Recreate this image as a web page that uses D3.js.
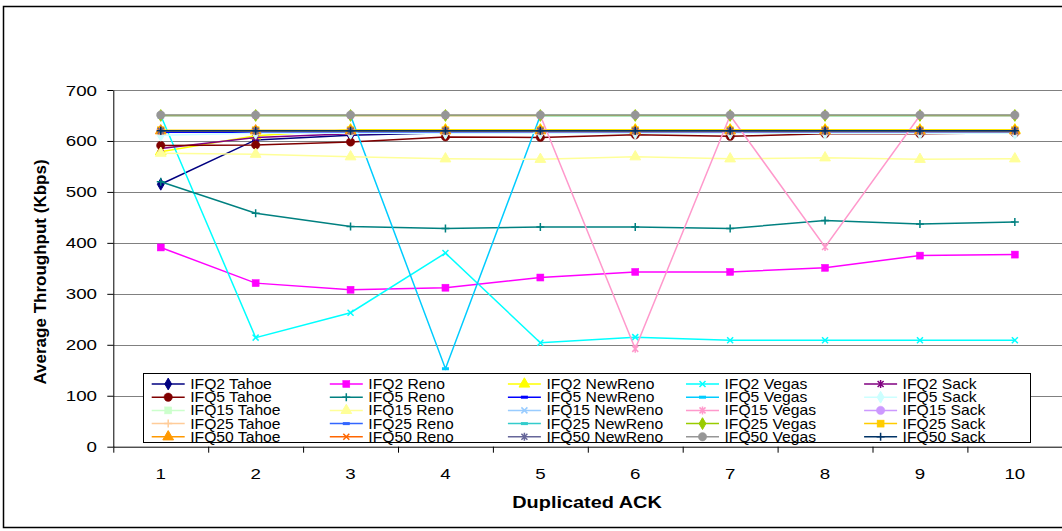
<!DOCTYPE html>
<html>
<head>
<meta charset="utf-8">
<script src="https://cdn.jsdelivr.net/npm/d3@7/dist/d3.min.js"></script>
<style>
body { margin: 0; background: #fff; }
text { font-family: Arial, "Liberation Sans", sans-serif; fill: #000; }
</style>
</head>
<body>
<div id="chart"></div>
<script>
// categories on the x axis (duplicated ACK threshold)
var categories = [1, 2, 3, 4, 5, 6, 7, 8, 9, 10];
var yTicks = [0, 100, 200, 300, 400, 500, 600, 700];

// throughput values (Kbps)
var ifq2Tahoe    = [515, 602, 611, 616, 618, 618, 618, 618, 618, 618];
var ifq2Reno     = [391, 321, 308, 312, 332, 343, 343, 351, 375, 377];
var ifq2NewReno  = [579, 610, 622, 622, 622, 622, 622, 622, 622, 622];
var ifq2Vegas    = [650, 214, 263, 380, 204, 215, 209, 209, 209, 209];
var ifq2Sack     = [585, 607, 614, 616, 617, 617, 617, 617, 617, 617];
var ifq5Tahoe    = [591, 592, 598, 608, 607, 612, 609, 614, 614, 616];
var ifq5Reno     = [520, 458, 432, 428, 431, 431, 428, 444, 437, 441];
var ifq5NewReno  = [617, 617, 617, 617, 618, 618, 618, 618, 618, 618];
var ifq5Vegas    = [650, 650, 650, 153, 650, 650, 650, 650, 650, 650];
var ifq5Sack     = [611, 615, 615, 615, 615, 615, 615, 615, 615, 615];
var ifq15Tahoe   = [620, 620, 620, 620, 620, 620, 620, 620, 620, 620];
var ifq15Reno    = [576, 574, 569, 565, 564, 569, 565, 567, 564, 565];
var ifq15NewReno = [619, 619, 619, 619, 619, 619, 619, 619, 619, 619];
var ifq15Vegas   = [650, 650, 650, 650, 650, 192, 650, 392, 650, 650];
var ifq15Sack    = [620, 620, 620, 620, 620, 620, 620, 620, 620, 620];
var ifq25Tahoe   = [620, 620, 620, 620, 620, 620, 620, 620, 620, 620];
var ifq25Reno    = [619, 619, 619, 619, 619, 619, 619, 619, 619, 619];
var ifq25NewReno = [620, 620, 620, 620, 620, 620, 620, 620, 620, 620];
var ifq25Vegas   = [650, 650, 650, 650, 650, 650, 650, 650, 650, 650];
var ifq25Sack    = [621, 621, 621, 621, 621, 621, 621, 621, 621, 621];
var ifq50Tahoe   = [620, 620, 620, 620, 620, 620, 620, 620, 620, 620];
var ifq50Reno    = [620, 620, 620, 620, 620, 620, 620, 620, 620, 620];
var ifq50NewReno = [620, 620, 620, 620, 620, 620, 620, 620, 620, 620];
var ifq50Vegas   = [651, 651, 651, 651, 651, 651, 651, 651, 651, 651];
var ifq50Sack    = [620, 620, 620, 620, 620, 620, 620, 620, 620, 620];

var seriesNames = [
    "IFQ2 Tahoe", "IFQ2 Reno", "IFQ2 NewReno", "IFQ2 Vegas", "IFQ2 Sack",
    "IFQ5 Tahoe", "IFQ5 Reno", "IFQ5 NewReno", "IFQ5 Vegas", "IFQ5 Sack",
    "IFQ15 Tahoe", "IFQ15 Reno", "IFQ15 NewReno", "IFQ15 Vegas", "IFQ15 Sack",
    "IFQ25 Tahoe", "IFQ25 Reno", "IFQ25 NewReno", "IFQ25 Vegas", "IFQ25 Sack",
    "IFQ50 Tahoe", "IFQ50 Reno", "IFQ50 NewReno", "IFQ50 Vegas", "IFQ50 Sack"
];
var seriesValues = [
    ifq2Tahoe, ifq2Reno, ifq2NewReno, ifq2Vegas, ifq2Sack,
    ifq5Tahoe, ifq5Reno, ifq5NewReno, ifq5Vegas, ifq5Sack,
    ifq15Tahoe, ifq15Reno, ifq15NewReno, ifq15Vegas, ifq15Sack,
    ifq25Tahoe, ifq25Reno, ifq25NewReno, ifq25Vegas, ifq25Sack,
    ifq50Tahoe, ifq50Reno, ifq50NewReno, ifq50Vegas, ifq50Sack
];

// excel style colours and markers, same order as the names
var colors = [
    "#000080", "#ff00ff", "#ffff00", "#00ffff", "#800080",
    "#800000", "#008080", "#0000ff", "#00ccff", "#ccffff",
    "#ccffcc", "#ffff99", "#99ccff", "#ff99cc", "#cc99ff",
    "#ffcc99", "#3366ff", "#33cccc", "#99cc00", "#ffcc00",
    "#ff9900", "#ff6600", "#666699", "#969696", "#003366"
];
var markers = [
    "diamond", "square", "triangle", "x", "star",
    "circle", "plus", "dash", "dash", "diamond",
    "square", "triangle", "x", "star", "circle",
    "plus", "dash", "dash", "diamond", "square",
    "triangle", "x", "star", "circle", "plus"
];

var width = 1062, height = 531;
var svg = d3.select("#chart").append("svg")
    .attr("width", width)
    .attr("height", height);

svg.append("rect")
    .attr("width", width).attr("height", height)
    .attr("fill", "#fff");

// outer chart border
svg.append("rect")
    .attr("x", 3.5).attr("y", 6.5)
    .attr("width", 1080).attr("height", 521)
    .attr("fill", "none")
    .attr("stroke", "#000")
    .attr("stroke-width", 1.5);

var xScale = d3.scaleLinear().domain([0.5, 10.5]).range([113.3, 1062.3]);
var yScale = d3.scaleLinear().domain([0, 700]).range([446.7, 90]);

// grid lines
svg.append("g").attr("class", "grid")
    .selectAll("line")
    .data(yTicks.filter(function(d) { return d > 0; }))
    .join("line")
    .attr("x1", xScale.range()[0])
    .attr("x2", xScale.range()[1])
    .attr("y1", function(d) { return Math.round(yScale(d)) + 0.5; })
    .attr("y2", function(d) { return Math.round(yScale(d)) + 0.5; })
    .attr("stroke", "#808080")
    .attr("stroke-width", 1);

// y axis
var yAxis = svg.append("g")
    .attr("class", "y axis")
    .attr("transform", "translate(113.3,0)")
    .call(d3.axisLeft(yScale).tickValues(yTicks).tickSize(6).tickSizeOuter(0).tickFormat(""));
yAxis.selectAll("path,line").attr("stroke", "#000");

yTicks.forEach(function(t) {
    svg.append("text")
        .attr("text-anchor", "end")
        .attr("font-size", 15)
        .attr("transform", "translate(97," + (yScale(t) + 5.5) + ") scale(1.25,1)")
        .text(t);
});

// x axis, ticks sit between categories
var xAxis = svg.append("g")
    .attr("class", "x axis")
    .attr("transform", "translate(0,446.7)")
    .call(d3.axisBottom(xScale).tickValues(d3.range(0.5, 11, 1)).tickSize(6).tickSizeOuter(0).tickFormat(""));
xAxis.selectAll("path,line").attr("stroke", "#000");

categories.forEach(function(c) {
    svg.append("text")
        .attr("text-anchor", "middle")
        .attr("font-size", 15)
        .attr("transform", "translate(" + xScale(c) + ",479) scale(1.25,1)")
        .text(c);
});

// axis titles
svg.append("text")
    .attr("text-anchor", "middle")
    .attr("font-size", 17)
    .attr("font-weight", "bold")
    .attr("transform", "translate(587,508) scale(1.17,1)")
    .text("Duplicated ACK");

svg.append("text")
    .attr("text-anchor", "middle")
    .attr("font-size", 17)
    .attr("font-weight", "bold")
    .attr("transform", "translate(46,272) rotate(-90)")
    .text("Average Throughput (Kbps)");

// marker drawing
function drawMarker(g, type, color) {
    if (type === "diamond") {
        g.append("path").attr("d", d3.symbol().type(d3.symbolDiamond).size(40)())
            .attr("fill", color).attr("stroke", color);
    } else if (type === "square") {
        g.append("rect").attr("x", -3.5).attr("y", -3.5).attr("width", 7).attr("height", 7)
            .attr("fill", color).attr("stroke", color).attr("stroke-width", 0.5);
    } else if (type === "triangle") {
        g.append("path").attr("d", d3.symbol().type(d3.symbolTriangle).size(50)())
            .attr("fill", color).attr("stroke", color);
    } else if (type === "circle") {
        g.append("circle").attr("r", 4.2)
            .attr("fill", color).attr("stroke", color).attr("stroke-width", 0.5);
    } else if (type === "dash") {
        g.append("rect").attr("x", -3.5).attr("y", -1.5).attr("width", 7).attr("height", 3)
            .attr("fill", color);
    } else if (type === "x") {
        g.append("path").attr("d", "M-3,-3L3,3M-3,3L3,-3")
            .attr("fill", "none").attr("stroke", color).attr("stroke-width", 1.5);
    } else if (type === "star") {
        g.append("path").attr("d", "M-3,-3L3,3M-3,3L3,-3M0,-4L0,4")
            .attr("fill", "none").attr("stroke", color).attr("stroke-width", 1.5);
    } else if (type === "plus") {
        g.append("path").attr("d", "M-4,0L4,0M0,-4L0,4")
            .attr("fill", "none").attr("stroke", color).attr("stroke-width", 1.5);
    }
}

var valueLine = d3.line()
    .x(function(d, i) { return xScale(categories[i]); })
    .y(function(d) { return yScale(d); });

var plot = svg.append("g").attr("class", "series");
seriesValues.forEach(function(vals, s) {
    var sg = plot.append("g");
    sg.append("path")
        .datum(vals)
        .attr("d", valueLine)
        .attr("fill", "none")
        .attr("stroke", colors[s])
        .attr("stroke-width", 1.5);
    vals.forEach(function(v, i) {
        var mg = sg.append("g")
            .attr("transform", "translate(" + xScale(categories[i]) + "," + yScale(v) + ")");
        drawMarker(mg, markers[s], colors[s]);
    });
});

// legend
var legend = svg.append("g").attr("class", "legend");
legend.append("rect")
    .attr("x", 143.5).attr("y", 373.5)
    .attr("width", 887).attr("height", 69)
    .attr("fill", "#fff")
    .attr("stroke", "#000")
    .attr("stroke-width", 1);

seriesNames.forEach(function(name, s) {
    var col = s % 5, row = Math.floor(s / 5);
    var lx = 151.7 + col * 178.1;
    var ly = 384 + row * 13.2;
    var lg = legend.append("g");
    lg.append("line")
        .attr("x1", lx).attr("x2", lx + 33)
        .attr("y1", ly).attr("y2", ly)
        .attr("stroke", colors[s])
        .attr("stroke-width", 1.5);
    drawMarker(lg.append("g").attr("transform", "translate(" + (lx + 16.5) + "," + ly + ")"), markers[s], colors[s]);
    lg.append("text")
        .attr("font-size", 14)
        .attr("transform", "translate(" + (lx + 38.5) + "," + (ly + 5) + ") scale(1.12,1)")
        .text(name);
});
</script>
</body>
</html>
